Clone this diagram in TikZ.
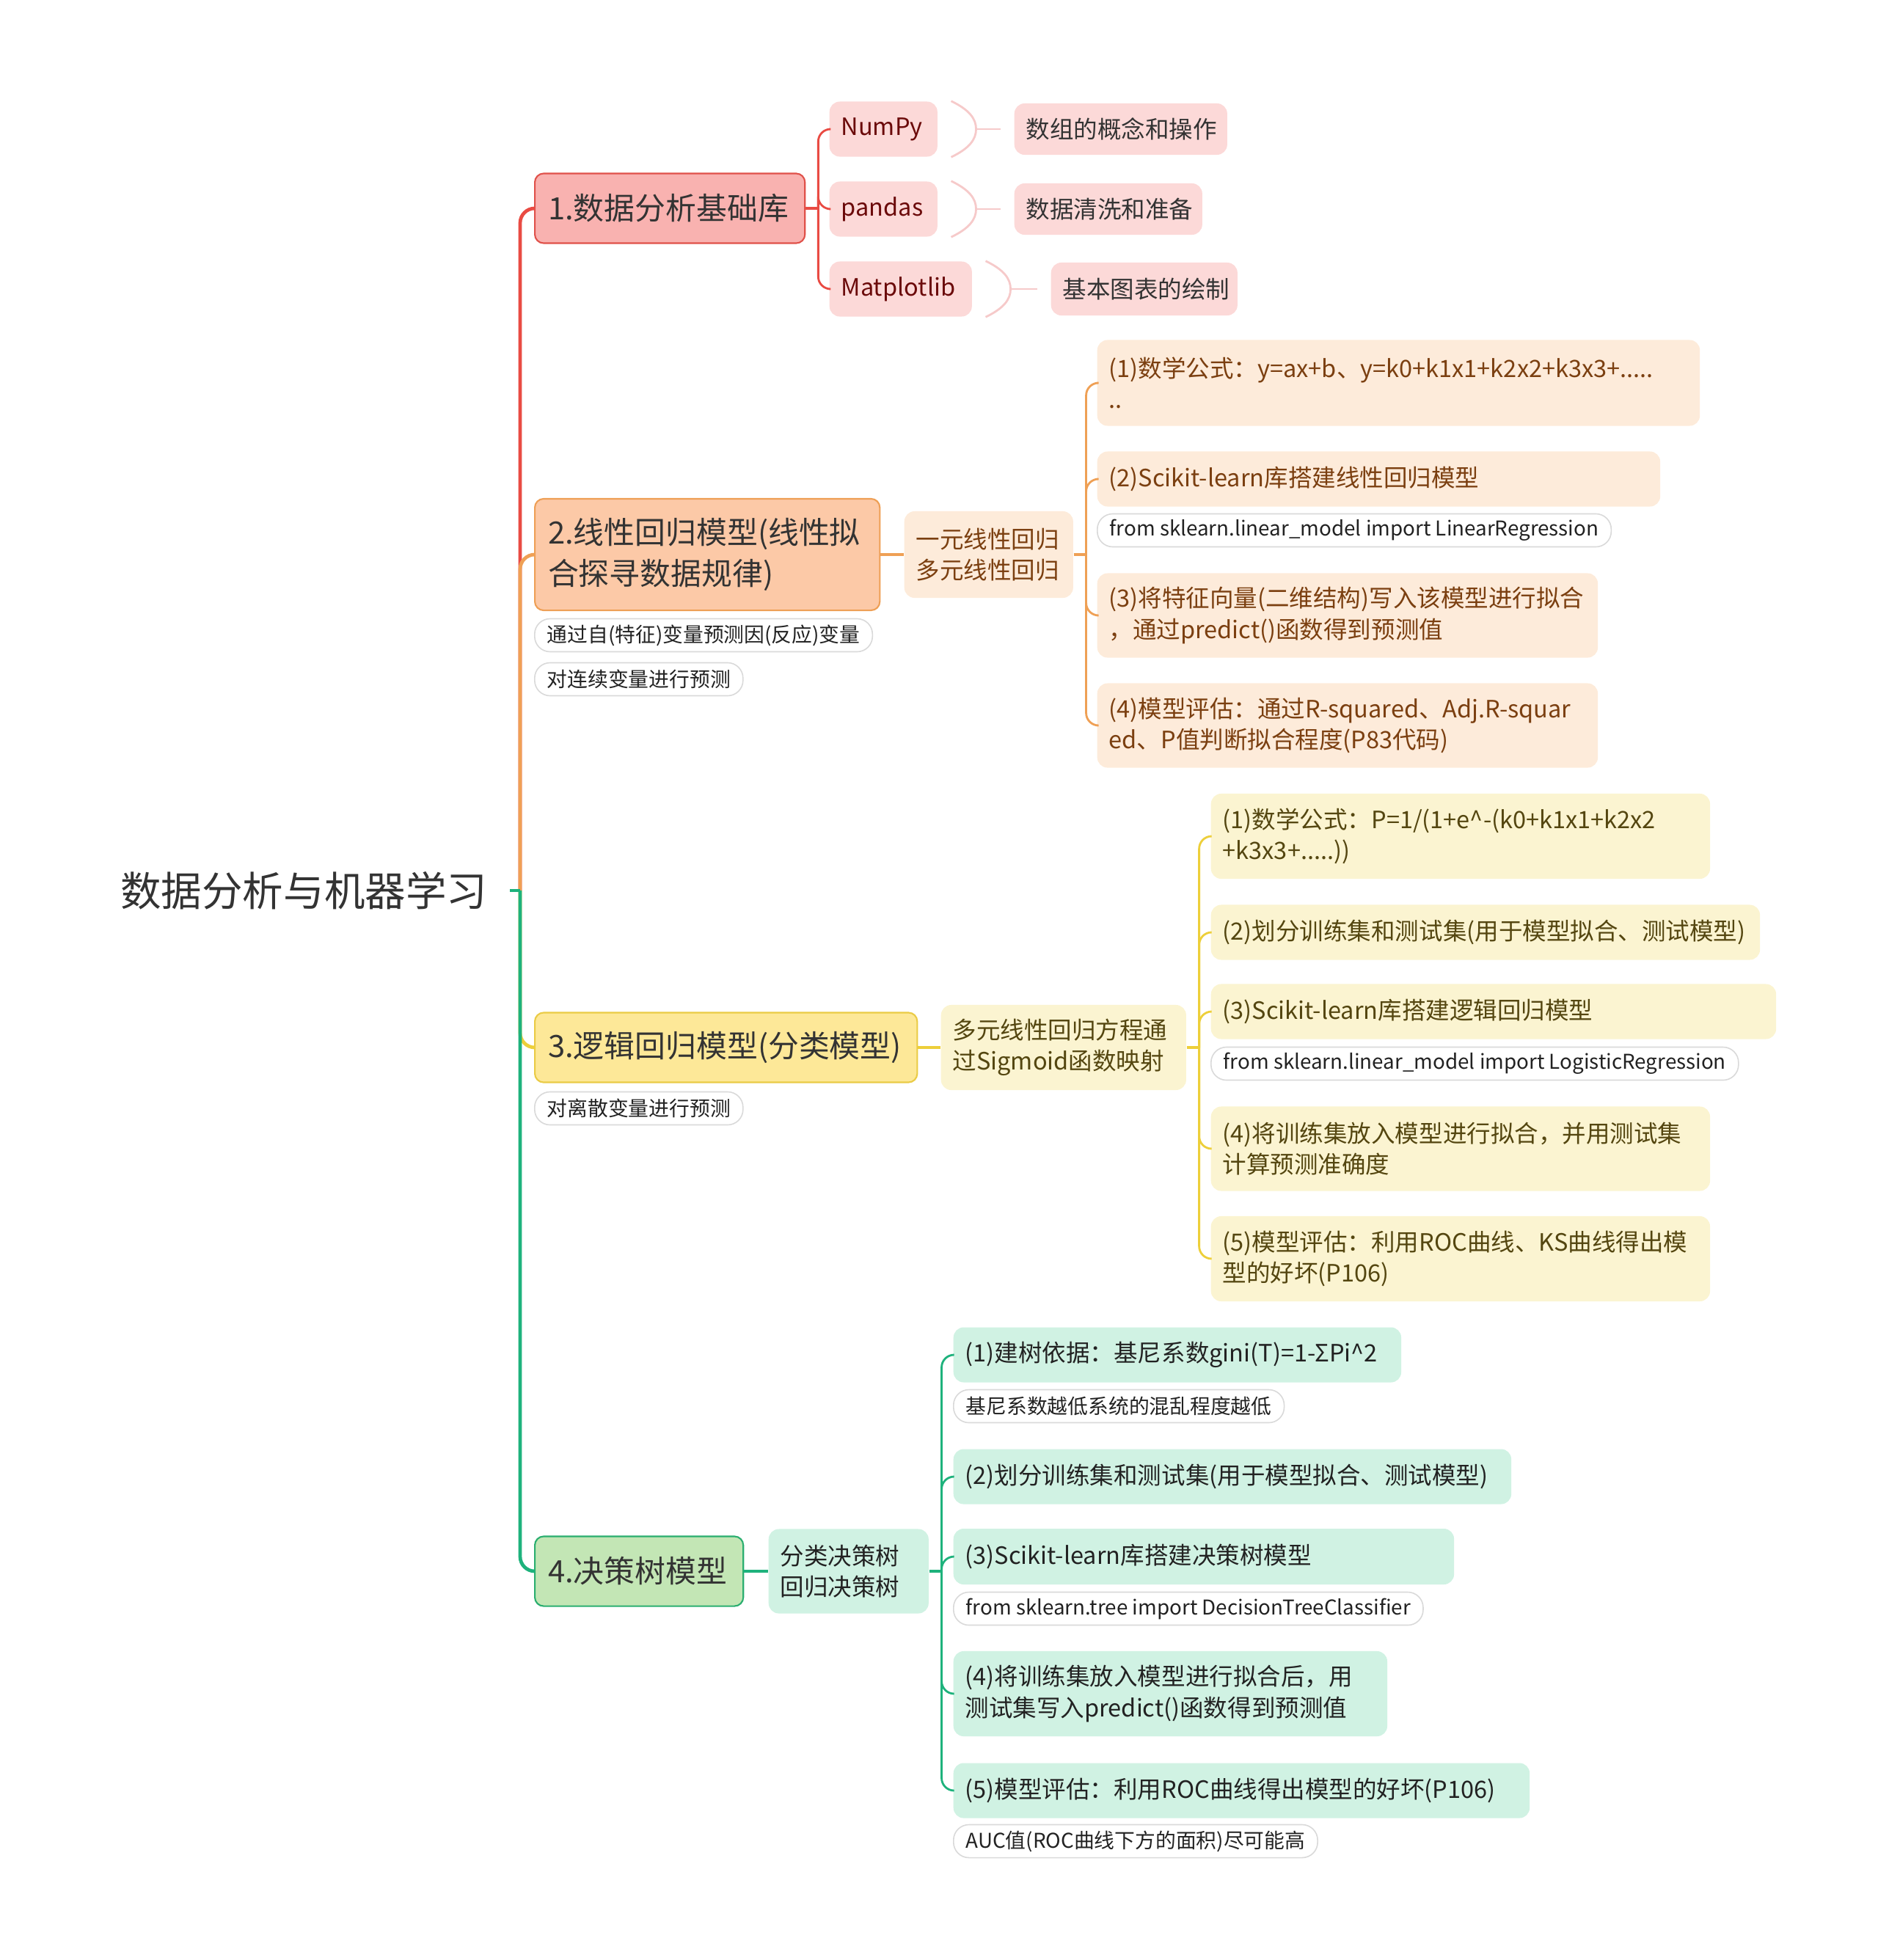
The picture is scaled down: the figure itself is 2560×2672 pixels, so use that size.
\documentclass[tikz,border=0pt]{standalone}
\usepackage{fontspec}
\setmainfont{Noto Sans CJK SC}
\definecolor{ink}{HTML}{333333}
\definecolor{lnRed}{HTML}{E94B43}
\definecolor{lnOrange}{HTML}{EFA055}
\definecolor{lnYellow}{HTML}{EDCF3A}
\definecolor{lnGreen}{HTML}{1EB27C}
\definecolor{redA}{HTML}{F9B2B0}\definecolor{redB}{HTML}{E0514A}
\definecolor{redC}{HTML}{FCD9D8}\definecolor{redT}{HTML}{6B0A0A}
\definecolor{brkc}{HTML}{F6CACA}
\definecolor{orgA}{HTML}{FCC9A7}\definecolor{orgB}{HTML}{EE9F55}
\definecolor{orgC}{HTML}{FDEBDA}\definecolor{orgT}{HTML}{7B3F10}
\definecolor{yelA}{HTML}{FDE898}\definecolor{yelB}{HTML}{EACB45}
\definecolor{yelC}{HTML}{FBF4D1}\definecolor{yelT}{HTML}{544610}
\definecolor{grnA}{HTML}{C3E6B5}\definecolor{grnB}{HTML}{2AAE6F}
\definecolor{grnC}{HTML}{D0F2E3}\definecolor{grnT}{HTML}{222222}
\definecolor{tagline}{HTML}{D9D9D9}
\newcommand\froot{\fontsize{15.8}{19}\selectfont}
\newcommand\ftopic{\fontsize{11.9}{15.9}\selectfont}
\newcommand\fchild{\fontsize{9.25}{12.1}\selectfont}
\newcommand\ftag{\fontsize{7.9}{10}\selectfont}

\begin{document}
\begin{tikzpicture}[x=0.01cm,y=-0.01cm,
  every node/.style={font=\fchild,inner ysep=0pt,inner xsep=0.16cm,align=left,anchor=west},
  topic/.style={line width=0.6pt,rounded corners=0.12cm,minimum height=0.95cm,font=\ftopic,inner xsep=0.18cm,text=ink},
  kid/.style={rounded corners=0.14cm,minimum height=0.75cm},
  kid2/.style={rounded corners=0.14cm,minimum height=1.16cm},
  tag/.style={draw=tagline,fill=white,line width=0.45pt,rounded corners=0.21cm,minimum height=0.45cm,inner xsep=0.17cm,font=\ftag,text=grnT},
  trunk/.style={line width=1.35pt,rounded corners=0.2cm},
  lk/.style={line width=1pt},
  br/.style={line width=0.8pt,rounded corners=0.17cm},
  brk/.style={draw=brkc,line width=0.8pt}]
\useasboundingbox (0,0) rectangle (2560,2672);

\node[font=\froot,text=ink,anchor=east,inner xsep=0.3cm] (root) at (695,1214) {数据分析与机器学习};
\coordinate (rt) at (709,1214);

\node[topic,fill=redA,draw=redB,text width=3.32cm] (n1) at (728,284) {1.数据分析基础库};
\node[topic,fill=orgA,draw=orgB,text width=4.34cm,minimum height=1.52cm] (n2) at (728,756) {2.线性回归模型(线性拟\\合探寻数据规律)};
\node[tag] (t21) at (728,866) {通过自(特征)变量预测因(反应)变量};
\node[tag] (t22) at (728,926) {对连续变量进行预测};
\node[topic,fill=yelA,draw=yelB,text width=4.85cm] (n3) at (728,1428) {3.逻辑回归模型(分类模型)};
\node[tag] (t31) at (728,1511) {对离散变量进行预测};
\node[topic,fill=grnA,draw=grnB,text width=2.48cm] (n4) at (728,2142) {4.决策树模型};

\draw[trunk,lnRed] (rt) |- (n1.west);
\draw[trunk,lnOrange] (rt) |- (n2.west);
\draw[trunk,lnYellow] (rt) |- (n3.west);
\draw[trunk,lnGreen] (rt) |- (n4.west);
\draw[trunk,lnGreen] (root.east) -- (rt);

\node[kid,fill=redC,text=redT,text width=1.15cm] (c11) at (1130,176) {NumPy};
\node[kid,fill=redC,text=redT,text width=1.15cm] (c12) at (1130,285) {pandas};
\node[kid,fill=redC,text=redT,text width=1.62cm] (c13) at (1130,394) {Matplotlib};
\node[kid,fill=redC,text=ink,text width=2.58cm,minimum height=0.7cm] (g11) at (1382,176) {数组的概念和操作};
\node[kid,fill=redC,text=ink,text width=2.24cm,minimum height=0.7cm] (g12) at (1382,285) {数据清洗和准备};
\node[kid,fill=redC,text=ink,text width=2.22cm,minimum height=0.72cm] (g13) at (1432,394) {基本图表的绘制};
\coordinate (j1) at ([xshift=0.17cm]n1.east);
\draw[lk,lnRed] (n1.east) -- (j1);
\foreach \c in {c11,c12,c13} \draw[br,lnRed] (j1) |- (\c.west);
\foreach \a/\b in {c11/g11,c12/g12,c13/g13}{
  \draw[brk] ([xshift=0.18cm]\a.north east) .. controls +(25,12) and +(0,-14) .. ([xshift=0.52cm]\a.east) .. controls +(0,14) and +(25,-12) .. ([xshift=0.18cm]\a.south east);
  \draw[brk] ([xshift=0.52cm]\a.east) -- ([xshift=-0.18cm]\b.west);
}

\node[kid2,fill=orgC,text=orgT,text width=1.98cm,minimum height=1.18cm] (m2) at (1232,756) {一元线性回归\\多元线性回归};
\node[kid2,fill=orgC,text=orgT,text width=7.89cm,minimum height=1.17cm] (c21) at (1495,522) {(1)数学公式：y=ax+b、y=k0+k1x1+k2x2+k3x3+.....\\..};
\node[kid,fill=orgC,text=orgT,text width=7.35cm] (c22) at (1495,653) {(2)Scikit-learn库搭建线性回归模型};
\node[tag] (t23) at (1495,723) {from sklearn.linear\_model import LinearRegression};
\node[kid2,fill=orgC,text=orgT,text width=6.5cm,minimum height=1.15cm] (c23) at (1495,839) {(3)将特征向量(二维结构)写入该模型进行拟合\\，通过predict()函数得到预测值};
\node[kid2,fill=orgC,text=orgT,text width=6.5cm,minimum height=1.15cm] (c24) at (1495,989) {(4)模型评估：通过R-squared、Adj.R-squar\\ed、P值判断拟合程度(P83代码)};
\draw[lk,lnOrange] (n2.east) -- (m2.west);
\coordinate (j2) at ([xshift=0.17cm]m2.east);
\draw[lk,lnOrange] (m2.east) -- (j2);
\foreach \c in {c21,c22,c23,c24} \draw[br,lnOrange] (j2) |- (\c.west);

\node[kid2,fill=yelC,text=yelT,text width=3.02cm] (m3) at (1282,1428) {多元线性回归方程通\\过Sigmoid函数映射};
\node[kid2,fill=yelC,text=yelT,text width=6.48cm] (c31) at (1650,1140) {(1)数学公式：P=1/(1+e\textasciicircum-(k0+k1x1+k2x2\\+k3x3+.....))};
\node[kid,fill=yelC,text=yelT,text width=7.16cm] (c32) at (1650,1271) {(2)划分训练集和测试集(用于模型拟合、测试模型)};
\node[kid,fill=yelC,text=yelT,text width=7.38cm] (c33) at (1650,1379) {(3)Scikit-learn库搭建逻辑回归模型};
\node[tag] (t33) at (1650,1450) {from sklearn.linear\_model import LogisticRegression};
\node[kid2,fill=yelC,text=yelT,text width=6.48cm,minimum height=1.15cm] (c34) at (1650,1566) {(4)将训练集放入模型进行拟合，并用测试集\\计算预测准确度};
\node[kid2,fill=yelC,text=yelT,text width=6.48cm] (c35) at (1650,1716) {(5)模型评估：利用ROC曲线、KS曲线得出模\\型的好坏(P106)};
\draw[lk,lnYellow] (n3.east) -- (m3.west);
\coordinate (j3) at ([xshift=0.17cm]m3.east);
\draw[lk,lnYellow] (m3.east) -- (j3);
\foreach \c in {c31,c32,c33,c34,c35} \draw[br,lnYellow] (j3) |- (\c.west);

\node[kid2,fill=grnC,text=grnT,text width=1.86cm,minimum height=1.15cm] (m4) at (1047,2142) {分类决策树\\回归决策树};
\node[kid,fill=grnC,text=grnT,text width=5.78cm] (c41) at (1299,1847) {(1)建树依据：基尼系数gini(T)=1-ΣPi\textasciicircum2};
\node[tag] (t41) at (1299,1917) {基尼系数越低系统的混乱程度越低};
\node[kid,fill=grnC,text=grnT,text width=7.28cm] (c42) at (1299,2013) {(2)划分训练集和测试集(用于模型拟合、测试模型)};
\node[kid,fill=grnC,text=grnT,text width=6.5cm,minimum height=0.76cm] (c43) at (1299,2122) {(3)Scikit-learn库搭建决策树模型};
\node[tag] (t43) at (1299,2193) {from sklearn.tree import DecisionTreeClassifier};
\node[kid2,fill=grnC,text=grnT,text width=5.59cm] (c44) at (1299,2309) {(4)将训练集放入模型进行拟合后，用\\测试集写入predict()函数得到预测值};
\node[kid,fill=grnC,text=grnT,text width=7.53cm] (c45) at (1299,2441) {(5)模型评估：利用ROC曲线得出模型的好坏(P106)};
\node[tag] (t45) at (1299,2510) {AUC值(ROC曲线下方的面积)尽可能高};
\draw[lk,lnGreen] (n4.east) -- (m4.west);
\coordinate (j4) at ([xshift=0.17cm]m4.east);
\draw[lk,lnGreen] (m4.east) -- (j4);
\foreach \c in {c41,c42,c43,c44,c45} \draw[br,lnGreen] (j4) |- (\c.west);
\end{tikzpicture}
\end{document}
